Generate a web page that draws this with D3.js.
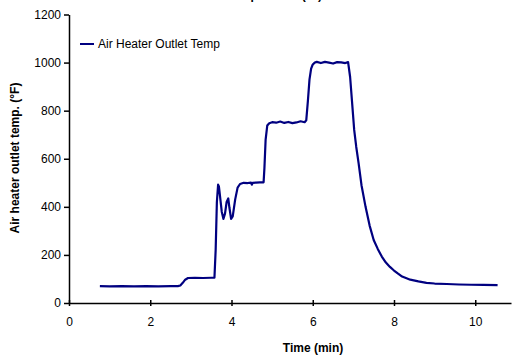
<!DOCTYPE html>
<html><head><meta charset="utf-8">
<script src="https://cdn.jsdelivr.net/npm/d3@7"></script>
<style>body{margin:0;background:#fff}svg{display:block}text{font-family:"Liberation Sans",Arial,sans-serif}</style>
</head><body><svg id="c" width="512" height="360"></svg>
<script>
const title = "Air Heater Outlet Temperature (°F)";
const seriesName = "Air Heater Outlet Temp";
const xTicks = [0, 2, 4, 6, 8, 10];
const yTicks = [0, 200, 400, 600, 800, 1000, 1200];
const timeMin = [0.76,1.0,1.3,1.6,1.9,2.2,2.5,2.68,2.74,2.8,2.86,2.93,3.1,3.3,3.5,3.58,
  3.61,3.64,3.67,3.69,3.72,3.76,3.8,3.84,3.88,3.92,3.95,3.99,4.03,4.09,4.15,4.21,4.3,4.4,4.48,4.5,4.52,4.6,4.7,4.79,
  4.81,4.84,4.88,4.93,5.0,5.1,5.2,5.3,5.4,5.5,5.6,5.7,5.8,5.84,5.88,5.92,5.96,6.0,6.05,6.1,6.2,6.3,6.4,6.5,6.6,6.7,6.8,6.87,
  6.92,6.97,7.02,7.07,7.13,7.2,7.3,7.4,7.5,7.6,7.7,7.8,7.9,8.0,8.1,8.2,8.4,8.6,8.8,9.0,9.3,9.6,9.9,10.2,10.55];
const tempF = [70,69,70,69,70,69,70,70,73,84,97,104,105,104,105,105,
  220,420,492,485,440,380,350,372,420,435,395,350,360,430,480,495,500,499,501,492,500,501,502,502,
  560,680,738,748,752,750,755,749,753,748,751,756,752,760,840,930,975,992,1000,1003,998,1003,1000,996,1002,1001,998,1002,
  940,830,720,650,580,490,400,322,262,225,193,168,150,135,122,110,97,90,84,81,79,77,76,75,74];
const data = timeMin.map((t, i) => ({t, v: tempF[i]}));

const svg = d3.select("#c");
const L = 69, R = 511, T = 14.5, B = 303;
const x = d3.scaleLinear().domain([0, 10.88]).range([L, R]);
const y = d3.scaleLinear().domain([0, 1200]).range([B, T]);

svg.append("text").attr("x", 322).attr("y", -1.5).attr("text-anchor", "end")
  .attr("font-size", 12).attr("font-weight", "bold").text(title);

const xa = svg.append("g").attr("transform", `translate(0,${B})`)
  .call(d3.axisBottom(x).tickValues(xTicks).tickSize(4).tickSizeOuter(0).tickFormat(d3.format("d")));
xa.selectAll(".tick line").attr("y1", -3).attr("y2", 3);
xa.selectAll("text").attr("font-size", 12).attr("dy", "1.3em").attr("fill", "#000");
const ya = svg.append("g").attr("transform", `translate(${L},0)`)
  .call(d3.axisLeft(y).tickValues(yTicks).tickSize(5).tickSizeOuter(0).tickFormat(d3.format("d")));
ya.selectAll("text").attr("font-size", 12).attr("x", -8).attr("fill", "#000");
svg.selectAll(".domain, .tick line").attr("stroke", "#000").attr("stroke-width", 1.5);

svg.append("path").datum(data)
  .attr("fill", "none").attr("stroke", "#000080").attr("stroke-width", 2.2)
  .attr("stroke-linejoin", "round")
  .attr("d", d3.line().x(d => x(d.t)).y(d => y(d.v)));

const lg = svg.append("g");
lg.append("line").attr("x1", 80).attr("x2", 94).attr("y1", 44).attr("y2", 44)
  .attr("stroke", "#000080").attr("stroke-width", 2);
lg.append("text").attr("x", 98).attr("y", 48).attr("font-size", 12).text(seriesName);

svg.append("text").attr("x", 313).attr("y", 352).attr("text-anchor", "middle")
  .attr("font-size", 12).attr("font-weight", "bold").text("Time (min)");
svg.append("text").attr("transform", "translate(19,158) rotate(-90)").attr("text-anchor", "middle")
  .attr("font-size", 12).attr("font-weight", "bold").text("Air heater outlet temp. (°F)");
</script></body></html>
